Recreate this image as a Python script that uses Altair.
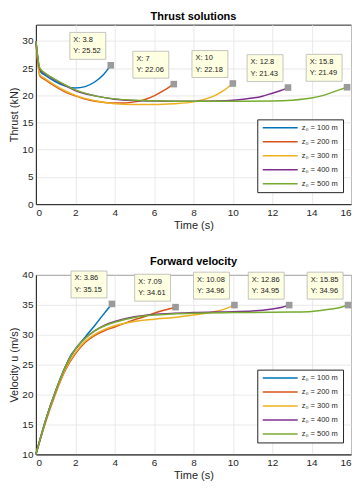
import altair as alt
import pandas as pd

series = ["z₀ = 100 m", "z₀ = 200 m", "z₀ = 300 m", "z₀ = 400 m", "z₀ = 500 m"]
colors = ["#0072BD", "#D95319", "#EDB120", "#7E2F8E", "#77AC30"]

# Thrust (kN) vs time (s)
thrust_t = [
    [0, 0.2, 0.5, 1.0, 1.5, 2.0, 2.5, 3.0, 3.4, 3.8],
    [0, 0.2, 0.5, 1.0, 1.5, 2.0, 2.5, 3.0, 3.5, 4.0, 4.5, 5.0, 5.5, 6.0, 6.5, 7.0],
    [0, 0.2, 0.5, 1.0, 1.5, 2.0, 3.0, 4.0, 5.0, 6.0, 7.0, 8.0, 8.5, 9.0, 9.5, 10.0],
    [0, 0.2, 0.5, 1.0, 1.5, 2.0, 3.0, 4.0, 5.0, 6.0, 7.0, 8.0, 9.0, 10.0, 11.0, 11.5, 12.0, 12.4, 12.8],
    [0, 0.2, 0.5, 1.0, 1.5, 2.0, 3.0, 4.0, 5.0, 6.0, 8.0, 10.0, 12.0, 13.0, 14.0, 14.5, 15.0, 15.4, 15.8],
]
thrust_v = [
    [30, 24.5, 23.6, 22.5, 21.7, 21.35, 21.6, 22.5, 23.7, 25.52],
    [30, 23.6, 22.8, 21.6, 20.6, 19.9, 19.3, 18.9, 18.7, 18.6, 18.6, 18.8, 19.2, 19.9, 20.9, 22.06],
    [30, 23.8, 23.0, 21.8, 20.8, 20.0, 19.0, 18.45, 18.3, 18.3, 18.45, 18.8, 19.2, 19.8, 20.8, 22.18],
    [30, 24.8, 23.9, 22.8, 21.8, 20.9, 19.9, 19.3, 19.05, 18.95, 18.9, 18.9, 18.95, 19.1, 19.5, 19.85, 20.4, 20.85, 21.43],
    [30, 25.0, 24.0, 22.9, 21.9, 21.0, 19.9, 19.35, 19.1, 19.0, 18.9, 18.9, 18.95, 19.1, 19.5, 19.9, 20.5, 21.0, 21.49],
]

# Forward velocity (m/s) vs time (s)
vel_t = [
    [0, 0.5, 1.0, 1.5, 1.8, 2.0, 2.5, 3.0, 3.5, 3.86],
    [0, 0.5, 1.0, 1.5, 2.0, 2.5, 3.0, 3.5, 4.0, 4.5, 5.0, 5.5, 6.0, 6.5, 7.09],
    [0, 0.5, 1.0, 1.5, 2.0, 2.5, 3.0, 3.5, 4.0, 5.0, 6.0, 7.0, 8.0, 9.0, 9.5, 10.08],
    [0, 0.5, 1.0, 1.5, 2.0, 2.5, 3.0, 3.5, 4.0, 5.0, 6.0, 8.0, 10.0, 11.0, 12.0, 12.5, 12.86],
    [0, 0.5, 1.0, 1.5, 2.0, 2.5, 3.0, 3.5, 4.0, 5.0, 6.0, 8.0, 10.0, 12.0, 13.0, 14.0, 15.0, 15.5, 15.85],
]
vel_v = [
    [10, 15.8, 20.6, 24.7, 26.7, 27.55, 29.6, 31.6, 33.7, 35.15],
    [10, 15.5, 20.2, 24.1, 26.8, 28.7, 29.9, 30.7, 31.3, 31.9, 32.5, 33.0, 33.6, 34.1, 34.61],
    [10, 15.6, 20.3, 24.3, 27.0, 28.9, 30.1, 30.9, 31.5, 32.2, 32.6, 32.9, 33.3, 33.8, 34.2, 34.96],
    [10, 15.8, 20.6, 24.7, 27.6, 29.4, 30.7, 31.6, 32.2, 33.0, 33.4, 33.7, 33.85, 33.95, 34.3, 34.6, 34.95],
    [10, 15.8, 20.6, 24.7, 27.6, 29.4, 30.7, 31.5, 32.1, 32.9, 33.3, 33.6, 33.7, 33.75, 33.8, 33.9, 34.3, 34.6, 34.96],
]

thrust_tip_x = [3.8, 7, 10, 12.8, 15.8]
thrust_tip_y = [25.52, 22.06, 22.18, 21.43, 21.49]
vel_tip_x = [3.86, 7.09, 10.08, 12.86, 15.85]
vel_tip_y = [35.15, 34.61, 34.96, 34.95, 34.96]

x_ticks = [0, 2, 4, 6, 8, 10, 12, 14, 16]
thrust_ticks = [0, 5, 10, 15, 20, 25, 30]
vel_ticks = [10, 15, 20, 25, 30, 35, 40]

PLOT_W = 316
PLOT_H = 180


def panel(t_lists, v_lists, tip_x, tip_y, title, ytitle, ydomain, yticks):
    rows = []
    for s, ts, vs in zip(series, t_lists, v_lists):
        for i, (t, v) in enumerate(zip(ts, vs)):
            rows.append({"series": s, "t": t, "v": v, "order": i})
    df = pd.DataFrame(rows)
    tips = pd.DataFrame({
        "series": series,
        "t": tip_x,
        "v": tip_y,
        "l1": [f"X: {x:g}" for x in tip_x],
        "l2": [f"Y: {y:g}" for y in tip_y],
    })
    xs = alt.Scale(domain=[0, 16], nice=False, zero=False)
    ys = alt.Scale(domain=ydomain, nice=False, zero=False)
    xenc = alt.X("t:Q", scale=xs, axis=alt.Axis(values=x_ticks, title="Time (s)"))
    yenc = alt.Y("v:Q", scale=ys, axis=alt.Axis(values=yticks, title=ytitle))

    lines = alt.Chart(df).mark_line(strokeWidth=1.5, interpolate="monotone").encode(
        x=xenc,
        y=yenc,
        color=alt.Color(
            "series:N",
            scale=alt.Scale(domain=series, range=colors),
            legend=alt.Legend(
                title=None,
                orient="none",
                legendX=222,
                legendY=PLOT_H - 10 - 75,
                direction="vertical",
                strokeColor="#262626",
                fillColor="white",
                padding=4.5,
                symbolType="stroke",
                symbolSize=1225,
                symbolStrokeWidth=1.5,
                labelFontSize=7.5,
                labelOffset=3,
                labelColor="#262626",
                clipHeight=8,
                rowPadding=6,
            ),
        ),
        order="order:Q",
    )
    box = alt.Chart(tips).mark_rect(
        fill="#ffffe1", stroke="#b5b5b5", strokeWidth=0.8,
        xOffset=-41, x2Offset=-5, yOffset=-33, y2Offset=-6,
    ).encode(x=xenc, x2="t", y=yenc, y2="v")
    marker = alt.Chart(tips).mark_square(size=44, color="#9b9b9b", opacity=1).encode(x=xenc, y=yenc)
    txt1 = alt.Chart(tips).mark_text(
        align="left", baseline="middle", dx=-37.5, dy=-25.5, fontSize=7.5, color="#222222"
    ).encode(x=xenc, y=yenc, text="l1:N")
    txt2 = alt.Chart(tips).mark_text(
        align="left", baseline="middle", dx=-37.5, dy=-14, fontSize=7.5, color="#222222"
    ).encode(x=xenc, y=yenc, text="l2:N")
    return alt.layer(lines, box, marker, txt1, txt2).properties(
        width=PLOT_W, height=PLOT_H, title=title
    )


top = panel(thrust_t, thrust_v, thrust_tip_x, thrust_tip_y,
            "Thrust solutions", "Thrust (kN)", [0, 33], thrust_ticks)
bottom = panel(vel_t, vel_v, vel_tip_x, vel_tip_y,
               "Forward velocity", "Velocity u (m/s)", [10, 40], vel_ticks)

chart = alt.vconcat(top, bottom, spacing=24).resolve_scale(
    color="independent"
).resolve_legend(
    color="independent"
).properties(
    padding={"left": 0, "top": 1, "right": 0, "bottom": 0}
).configure(
    font="Liberation Sans"
).configure_view(
    stroke="#262626", strokeWidth=1
).configure_axis(
    grid=True, gridColor="#e3e3e3", gridWidth=0.8,
    domainColor="#262626", ticks=False,
    labelFontSize=10, titleFontSize=11,
    labelColor="#262626", titleColor="#262626",
    titleFontWeight="normal", labelPadding=3, titlePadding=2,
).configure_title(
    fontSize=11, fontWeight="bold", color="black", offset=3
)

chart.save("out.html", embed_options={"renderer": "svg", "actions": False})
